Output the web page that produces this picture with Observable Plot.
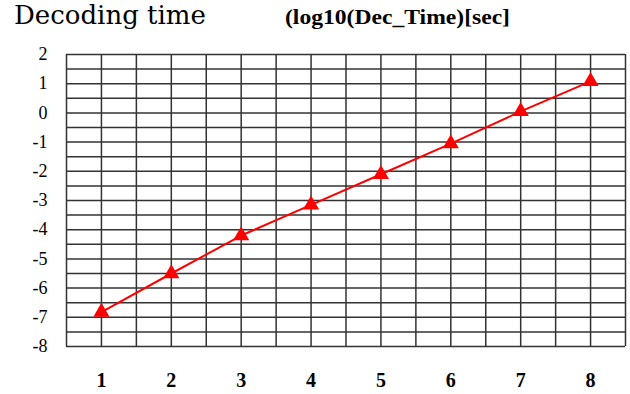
<!DOCTYPE html>
<html>
<head>
<meta charset="utf-8">
<script src="https://cdn.jsdelivr.net/npm/d3@7"></script>
<script src="https://cdn.jsdelivr.net/npm/@observablehq/plot@0.6"></script>
<style>
  html, body { margin: 0; padding: 0; background: #fff; }
  #wrap { width: 630px; height: 394px; position: relative; overflow: hidden; }
  #head { position: relative; height: 40px; }
  #t1 { position: absolute; left: 14px; top: 0px; font-family: 'DejaVu Serif', serif; font-size: 26px; color: #000; font-weight: normal; white-space: nowrap; }
  #t2 { position: absolute; left: 285px; top: 6px; font-family: 'Liberation Serif', serif; font-weight: bold; font-size: 20px; color: #000; white-space: nowrap; transform-origin: 0 0; transform: scaleX(1.18); }
  svg { display: block; }
  g[aria-label="x-axis tick label"], g[aria-label="x-axis tick label"] text { font-family: 'Liberation Serif', serif !important; font-size: 20px !important; font-weight: bold !important; }
  g[aria-label="y-axis tick label"], g[aria-label="y-axis tick label"] text { font-family: 'Liberation Serif', serif !important; font-size: 18px !important; }
</style>
</head>
<body>
<div id="wrap">
  <div id="head"><span id="t1">Decoding time</span><span id="t2">(log10(Dec_Time)[sec]</span></div>
  <div id="chart"></div>
</div>
<script>
const stages = [1, 2, 3, 4, 5, 6, 7, 8];
const logDecTime = [-6.82, -5.5, -4.2, -3.15, -2.1, -1.05, 0.05, 1.08];
const xTicks = [1, 2, 3, 4, 5, 6, 7, 8];
const yTicks = [2, 1, 0, -1, -2, -3, -4, -5, -6, -7, -8];
const xGrid = d3.range(0.5, 8.51, 0.5);
const yGrid = d3.range(-8, 2.01, 0.5);

const data = stages.map((s, i) => ({x: s, y: logDecTime[i]}));

const chart = Plot.plot({
  width: 630,
  height: 354,
  marginTop: 14,
  marginBottom: 48,
  marginLeft: 66,
  marginRight: 5,
  style: {fontFamily: "'Liberation Serif', serif", fontSize: "18px", color: "#000", background: "#fff"},
  x: {domain: [0.5, 8.5], label: null},
  y: {domain: [-8, 2], label: null},
  marks: [
    Plot.ruleX(xGrid, {stroke: "#333", strokeWidth: 1.5}),
    Plot.ruleY(yGrid, {stroke: "#333", strokeWidth: 1.5}),
    Plot.axisX({ticks: xTicks, tickSize: 0, tickPadding: 26, label: null, tickFormat: d => String(d)}),
    Plot.axisY({ticks: yTicks, tickSize: 0, tickPadding: 19, label: null, tickFormat: d => String(d)}),
    Plot.line(data, {x: "x", y: "y", stroke: "#ff0000", strokeWidth: 2}),
    Plot.dot(data, {x: "x", y: "y", symbol: "triangle", r: 6, fill: "#ff0000", stroke: "none"})
  ]
});
document.getElementById("chart").appendChild(chart);
</script>
</body>
</html>
